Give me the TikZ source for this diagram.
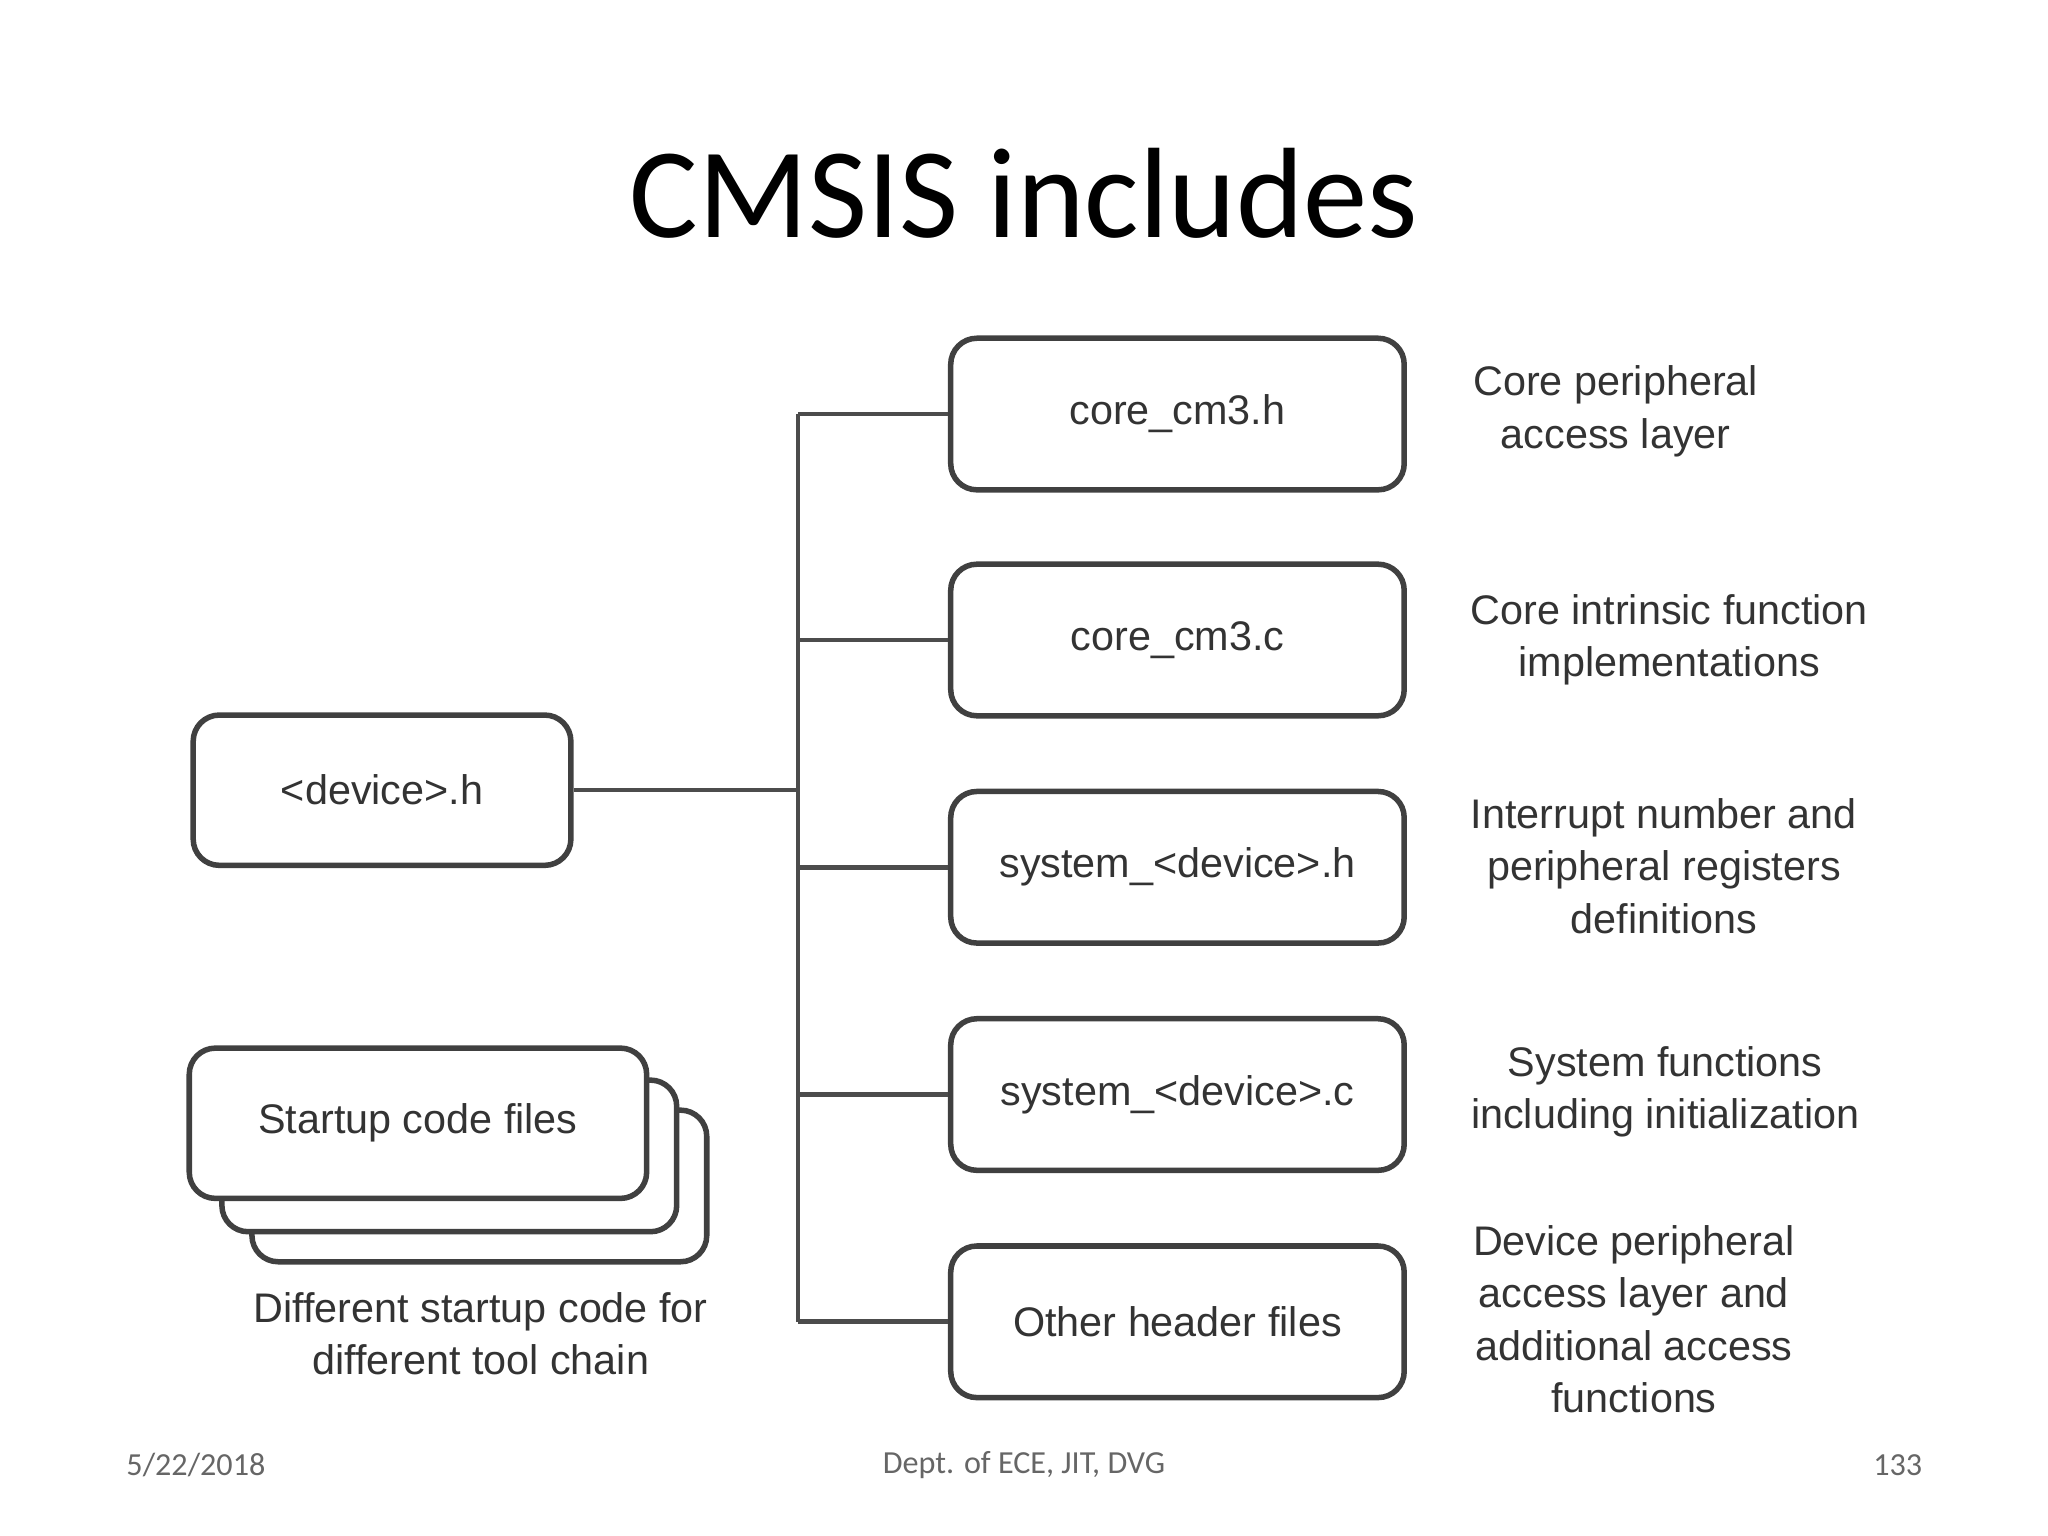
\documentclass[tikz,border=0pt]{standalone}
\usepackage{fontspec}
\setmainfont{Liberation Sans}
\newfontfamily\carlitofont{Carlito}
\begin{document}
\begin{tikzpicture}[x=0.01cm,y=-0.01cm,
 box/.style={draw=black!75,line width=1.2pt,rounded corners=0.2cm,fill=white,inner sep=0pt},
 lbl/.style={align=center,font=\fontsize{9}{11.4}\selectfont,text=black!80},
 ln/.style={draw=black!70,line width=1pt},
 foot/.style={font=\carlitofont\fontsize{7}{8}\selectfont,text=black!60}]
\useasboundingbox (0,0) rectangle (1568,1176);
\node[font=\carlitofont\fontsize{28}{30}\selectfont] (title) at (784,148) {CMSIS includes};
\foreach \n/\y/\t in {a/317/core\_cm3.h, b/490/core\_cm3.c, c/664/system\_<device>.h, d/838/system\_<device>.c, e/1012/Other header files}{
  \node[box,minimum width=3.47cm,minimum height=1.16cm,lbl] (\n) at (901.5,\y) {\t};
}
\node[box,minimum width=2.89cm,minimum height=1.15cm,lbl] (dev) at (292.5,605) {<device>.h};
\node[box,minimum width=3.48cm,minimum height=1.16cm] (s3) at (367,908) {};
\node[box,minimum width=3.48cm,minimum height=1.16cm] (s2) at (344,885) {};
\node[box,minimum width=3.5cm,minimum height=1.15cm,lbl] (s1) at (320,860) {Startup code files};
\node[lbl] (sl) at (368,1021) {Different startup code for\\different tool chain};
\coordinate (top) at (611,317);
\coordinate (bot) at (611,1012);
\coordinate (mid) at (611,605);
\draw[ln] (top) -- (bot);
\draw[ln] (dev) -- (mid);
\foreach \n in {a,b,c,d,e}{\draw[ln] (\n.west) -- (\n.west -| top);}
\node[lbl] (la) at (1237,315) {Core peripheral\\access layer};
\node[lbl] (lb) at (1278,490) {Core intrinsic function\\implementations};
\node[lbl] (lc) at (1274,663) {Interrupt number and\\peripheral registers\\definitions};
\node[lbl] (ld) at (1275,836) {System functions\\including initialization};
\node[lbl] (le) at (1251,1010) {Device peripheral\\access layer and\\additional access\\functions};
\node[foot] (f1) at (150,1122) {5/22/2018};
\node[foot] (f2) at (784,1122) {Dept. of ECE, JIT, DVG};
\node[foot] (f3) at (1453,1122) {133};
\end{tikzpicture}
\end{document}
